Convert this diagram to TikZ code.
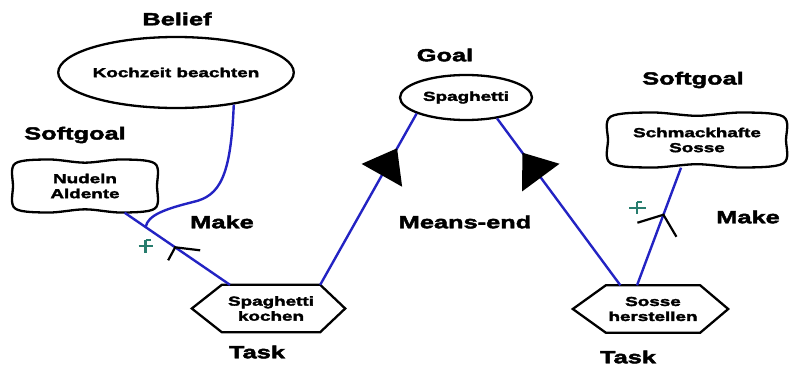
\documentclass[tikz,border=0pt]{standalone}
\usepackage{fontspec}
\setmainfont{Liberation Sans}
\newfontfamily\lblfont{Liberation Sans}[FakeStretch=1.45,FakeBold=2.5]
\usetikzlibrary{shapes.geometric,arrows.meta,decorations.markings,calc}
\definecolor{linkblue}{RGB}{35,35,195}
\definecolor{plusteal}{RGB}{40,125,110}
\newcommand{\blobdraw}[3]{%
  \begin{scope}[shift={(#1.center)}]
    \draw[outline] plot[smooth cycle,tension=0.55] coordinates {
      (-0.97*#2,-0.85*#3) (-0.5*#2,-1.0*#3) (0,-0.88*#3) (0.5*#2,-1.0*#3)
      (0.97*#2,-0.85*#3) (1.0*#2,0) (0.97*#2,0.85*#3) (0.5*#2,1.0*#3)
      (0,0.88*#3) (-0.5*#2,1.0*#3) (-0.97*#2,0.85*#3) (-1.0*#2,0)};
  \end{scope}}
\begin{document}
\begin{tikzpicture}[x=1pt,y=-1pt,
  lbl/.style={font=\lblfont\bfseries\fontsize{17.5}{20}\selectfont, inner sep=0},
  intext/.style={font=\lblfont\bfseries\fontsize{13}{15}\selectfont, align=center, inner sep=0},
  outline/.style={draw=black, line width=2.3pt},
  link/.style={draw=linkblue, line width=2.4pt},
  tick/.style={draw=black, line width=2.2pt},
  plusmark/.style={draw=plusteal, line width=2.6pt},
  endarrow/.style={postaction={decorate}, decoration={markings,
     mark=at position #1 with {\arrow[black]{Triangle[length=31pt,width=46pt]}}}}]
\useasboundingbox (0,0) rectangle (791,367);

% ---- left side ----
\node[lbl] (lbelief) at (177,19) {Belief};
\node[ellipse, outline, minimum width=222pt, minimum height=71pt, inner sep=0, intext] (belief) at (176,72.5) {Kochzeit beachten};
\node[lbl] (lsoft1) at (75,135) {Softgoal};
\node[intext, minimum width=144pt, minimum height=53pt] (soft1) at (85,186) {Nudeln\\Aldente};
\blobdraw{soft1}{72}{26.5}
\node[lbl] (lmake1) at (222,222) {Make};
\node[intext, minimum width=98pt, minimum height=47pt] (task1) at (271,308.5) {Spaghetti\\kochen};
\draw[outline] (task1.north west) -- (task1.north east) -- ($(task1.east)+(25,0)$) -- (task1.south east) -- (task1.south west) -- ($(task1.west)+(-30,0)$) -- cycle;
\node[lbl] (ltask1) at (257,352) {Task};

% ---- middle ----
\node[lbl] (lgoal) at (445,55) {Goal};
\node[ellipse, outline, minimum width=132pt, minimum height=45pt, inner sep=0, intext] (goal) at (466,97.5) {Spaghetti};
\node[lbl] (lmeans) at (465,222) {Means-end};

% ---- right side ----
\node[lbl] (lsoft2) at (693,80) {Softgoal};
\node[intext, minimum width=178pt, minimum height=55pt] (soft2) at (697,140) {Schmackhafte\\Sosse};
\blobdraw{soft2}{89}{27.5}
\node[lbl] (lmake2) at (748,217) {Make};
\node[intext, minimum width=94pt, minimum height=47pt] (task2) at (653,309) {Sosse\\herstellen};
\draw[outline] (task2.north west) -- (task2.north east) -- ($(task2.east)+(28,0)$) -- (task2.south east) -- (task2.south west) -- ($(task2.west)+(-33,0)$) -- cycle;
\node[lbl] (ltask2) at (628,357) {Task};

% ---- connectors ----
\draw[link] (soft1.-34) -- (task1.150) coordinate[pos=0.2] (m1) coordinate[pos=0.48] (k1);
\coordinate (bend1) at (193,202);
\draw[link] (belief.-29) .. controls +(-3,72) and +(27,-6) .. (bend1)
                         .. controls +(-28,7) and +(2,-12) .. (m1);
\draw[link, endarrow=0.797] (task1.north east) -- (goal.198);
\draw[link, endarrow=0.795] (task2.144) -- (goal.-34);
\draw[link] (soft2.-120) -- (task2.124) coordinate[pos=0.40] (k2);

% ---- contribution marks ----
\draw[tick] ($(k1)+(-7,13)$) -- (k1) -- ($(k1)+(25,3)$);
\draw[tick] ($(k2)+(-26,8)$) -- (k2) -- ($(k2)+(13,22)$);
\draw[plusmark] (138.5,246) -- (152.5,246) (145.5,240) -- (145.5,253) (145.5,240) -- (150.5,240);
\draw[plusmark] (629,208) -- (646,208) (637,202) -- (637,214) (637,202) -- (642,202);
\end{tikzpicture}
\end{document}
